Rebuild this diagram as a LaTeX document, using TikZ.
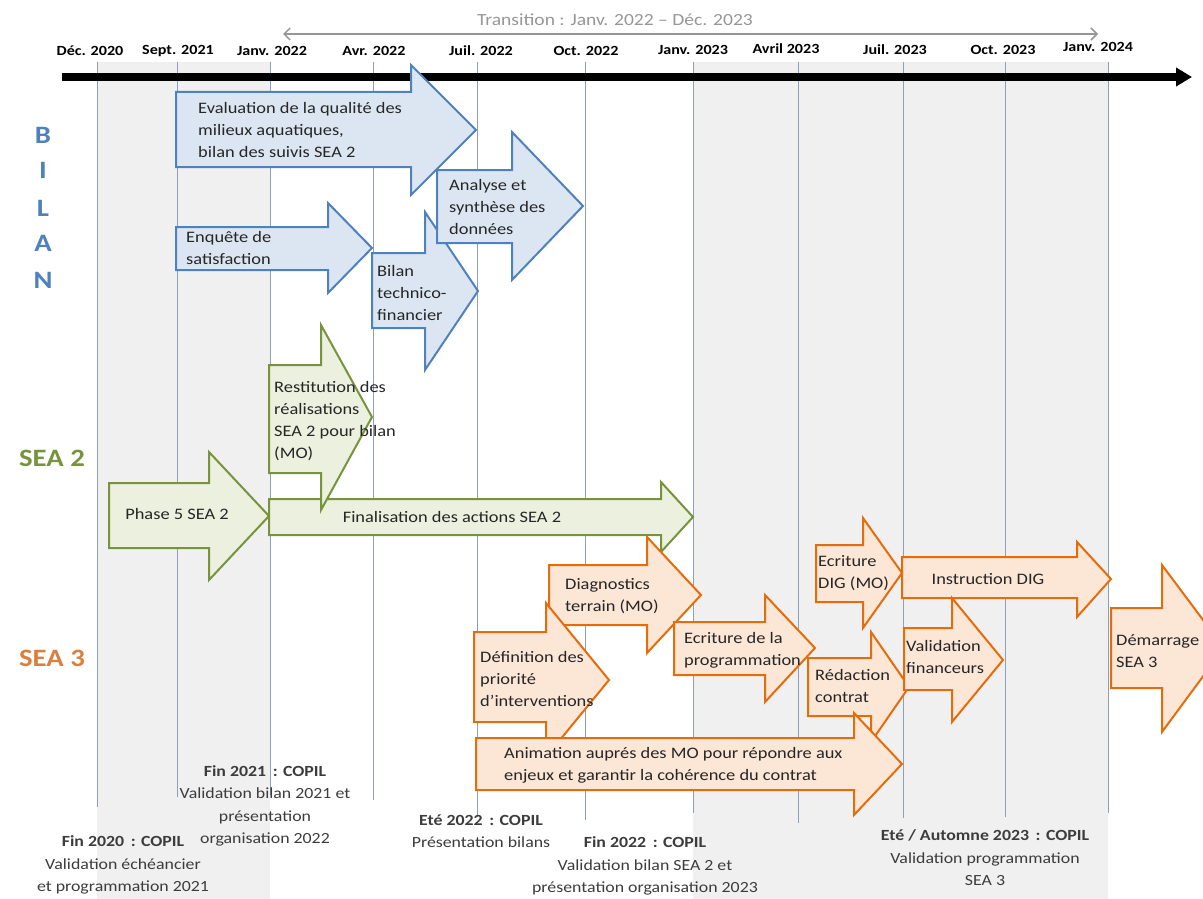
\documentclass[tikz,border=0pt]{standalone}
\usepackage{fontspec}
\setmainfont{Carlito}[FakeStretch=1.15]
\usetikzlibrary{arrows.meta}

\definecolor{bilanline}{RGB}{79,129,189}
\definecolor{bilanfill}{RGB}{220,230,242}
\definecolor{seadeuxline}{RGB}{119,147,60}
\definecolor{seadeuxfill}{RGB}{235,241,222}
\definecolor{seatroisline}{RGB}{228,108,10}
\definecolor{seatroisfill}{RGB}{252,230,214}
\definecolor{seatroistext}{RGB}{217,128,60}
\definecolor{bandgray}{RGB}{240,240,240}
\definecolor{gridgray}{RGB}{140,160,185}
\definecolor{transgray}{RGB}{150,150,150}
\definecolor{copilgray}{RGB}{60,60,60}

\begin{document}
\begin{tikzpicture}[x=1pt, y=-1pt,
    bilanarrow/.style={draw=bilanline, fill=bilanfill, line width=2pt},
    seadeuxarrow/.style={draw=seadeuxline, fill=seadeuxfill, line width=2pt},
    seatroisarrow/.style={draw=seatroisline, fill=seatroisfill, line width=2pt},
    tasktext/.style={anchor=west, align=left, inner sep=0pt, text=black!85, font=\fontsize{16}{22}\selectfont},
    datelabel/.style={inner sep=0pt, font=\fontsize{14}{16}\selectfont\bfseries},
    rowlabel/.style={inner sep=0pt, font=\fontsize{25}{25}\selectfont\bfseries},
    copil/.style={align=center, inner sep=0pt, text=copilgray, font=\fontsize{15.5}{22.5}\selectfont},
    gridline/.style={draw=gridgray, line width=1pt}]
    \useasboundingbox (0,0) rectangle (1203,899);

    % Shaded periods
    \fill[bandgray] (97,62) rectangle (270,899);
    \fill[bandgray] (693,62) rectangle (1108,899);

    % Month lines
    \draw[gridline] (97,62) -- (97,807);
    \draw[gridline] (177,62) -- (177,797);
    \draw[gridline] (270,62) -- (270,795);
    \draw[gridline] (373,62) -- (373,800);
    \draw[gridline] (477,62) -- (477,817);
    \draw[gridline] (585,62) -- (585,820);
    \draw[gridline] (693,62) -- (693,813);
    \draw[gridline] (798,62) -- (798,823);
    \draw[gridline] (903,62) -- (903,818);
    \draw[gridline] (1005,62) -- (1005,817);
    \draw[gridline] (1108,62) -- (1108,813);

    % Dates
    \node[datelabel] (dec20) at (90,51) {Déc. 2020};
    \node[datelabel] (sep21) at (178,51) {Sept. 2021};
    \node[datelabel] (jan22) at (272,51) {Janv. 2022};
    \node[datelabel] (avr22) at (374,51) {Avr. 2022};
    \node[datelabel] (jul22) at (481,51) {Juil. 2022};
    \node[datelabel] (oct22) at (586,51) {Oct. 2022};
    \node[datelabel] (jan23) at (693,50) {Janv. 2023};
    \node[datelabel] (avr23) at (786,49) {Avril 2023};
    \node[datelabel] (jul23) at (895,50) {Juil. 2023};
    \node[datelabel] (oct23) at (1003,50) {Oct. 2023};
    \node[datelabel] (jan24) at (1098,47) {Janv. 2024};

    % Time axis
    \coordinate (axisstart) at (62,77);
    \coordinate (axisend) at (1192,77);
    \draw[line width=8.5pt, -{Triangle[length=16pt,width=18pt]}] (axisstart) -- (axisend);

    % Transition period
    \coordinate (transstart) at (283,34);
    \coordinate (transend) at (1098,34);
    \draw[transgray, line width=1.5pt, {Straight Barb[length=6pt,width=12pt]}-{Straight Barb[length=6pt,width=12pt]}] (transstart) -- (transend);
    \node[text=transgray, inner sep=0pt, font=\fontsize{17}{18}\selectfont] (transition) at (615,20) {Transition : Janv. 2022 – Déc. 2023};

    % Row titles
    \node[rowlabel, text=bilanline] (bilanb) at (43,135) {B};
    \node[rowlabel, text=bilanline] (bilani) at (43,170) {I};
    \node[rowlabel, text=bilanline] (bilanl) at (43,208) {L};
    \node[rowlabel, text=bilanline] (bilana) at (43,243) {A};
    \node[rowlabel, text=bilanline] (bilann) at (43,280) {N};
    \node[rowlabel, text=seadeuxline] (seadeux) at (52,458) {SEA 2};
    \node[rowlabel, text=seatroistext] (seatrois) at (52,658) {SEA 3};

    % BILAN
    \draw[bilanarrow] (176,92) -- (411,92) -- (411,65) -- (476,130) -- (411,195) -- (411,167) -- (176,167) -- cycle;
    \node[tasktext] (evaluation) at (198,130) {Evaluation de la qualité des\\milieux aquatiques,\\bilan des suivis SEA 2};
    \draw[bilanarrow] (176,227) -- (328,227) -- (328,203) -- (372,248) -- (328,293) -- (328,270) -- (176,270) -- cycle;
    \node[tasktext] (enquete) at (186,248) {Enquête de\\satisfaction};
    \draw[bilanarrow] (372,253) -- (425,253) -- (425,212) -- (478,291) -- (425,370) -- (425,328) -- (372,328) -- cycle;
    \node[tasktext] (bilantf) at (377,293) {Bilan\\technico-\\financier};
    \draw[bilanarrow] (437,170) -- (512,170) -- (512,132) -- (583,206) -- (512,280) -- (512,243) -- (437,243) -- cycle;
    \node[tasktext] (analyse) at (449,207) {Analyse et\\synthèse des\\données};

    % SEA 2
    \draw[seadeuxarrow] (109,483) -- (209,483) -- (209,452) -- (269,516) -- (209,580) -- (209,548) -- (109,548) -- cycle;
    \node[inner sep=0pt, text=black!85, font=\fontsize{16}{22}\selectfont] (phasecinq) at (177,514) {Phase 5 SEA 2};
    \draw[seadeuxarrow] (269,499) -- (661,499) -- (661,482) -- (693,517) -- (661,552) -- (661,535) -- (269,535) -- cycle;
    \node[inner sep=0pt, text=black!85, font=\fontsize{16}{22}\selectfont] (finalisation) at (452,517) {Finalisation des actions SEA 2};
    \draw[seadeuxarrow] (269,365) -- (321,365) -- (321,325) -- (372,417) -- (321,510) -- (321,473) -- (269,473) -- cycle;
    \node[tasktext] (restitution) at (274,421) {Restitution des\\réalisations\\SEA 2 pour bilan\\(MO)};

    % SEA 3
    \draw[seatroisarrow] (549,565) -- (647,565) -- (647,537) -- (701,595) -- (647,653) -- (647,625) -- (549,625) -- cycle;
    \node[tasktext] (diagnostics) at (565,596) {Diagnostics\\terrain (MO)};
    \draw[seatroisarrow] (474,632) -- (546,632) -- (546,603) -- (609,680) -- (546,757) -- (546,722) -- (474,722) -- cycle;
    \node[tasktext] (definition) at (480,679) {Définition des\\priorité\\d’interventions};
    \draw[seatroisarrow] (674,622) -- (765,622) -- (765,595) -- (815,648) -- (765,702) -- (765,675) -- (674,675) -- cycle;
    \node[tasktext] (programmation) at (684,650) {Ecriture de la\\programmation};
    \draw[seatroisarrow] (808,658) -- (871,658) -- (871,632) -- (909,687) -- (871,742) -- (871,716) -- (808,716) -- cycle;
    \node[tasktext] (redaction) at (815,686) {Rédaction\\contrat};
    \draw[seatroisarrow] (816,545) -- (863,545) -- (863,518) -- (902,573) -- (863,628) -- (863,602) -- (816,602) -- cycle;
    \node[tasktext] (ecrituredig) at (818,573) {Ecriture\\DIG (MO)};
    \draw[seatroisarrow] (902,557) -- (1077,557) -- (1077,542) -- (1111,579) -- (1077,617) -- (1077,598) -- (902,598) -- cycle;
    \node[inner sep=0pt, text=black!85, font=\fontsize{16}{22}\selectfont] (instruction) at (988,579) {Instruction DIG};
    \draw[seatroisarrow] (904,628) -- (952,628) -- (952,598) -- (1003,660) -- (952,722) -- (952,690) -- (904,690) -- cycle;
    \node[tasktext] (financeurs) at (906,657) {Validation\\financeurs};
    \draw[seatroisarrow] (1111,608) -- (1162,608) -- (1162,565) -- (1224,648) -- (1162,732) -- (1162,688) -- (1111,688) -- cycle;
    \node[tasktext] (demarrage) at (1116,651) {Démarrage\\SEA 3};
    \draw[seatroisarrow] (476,738) -- (854,738) -- (854,713) -- (902,764) -- (854,815) -- (854,790) -- (476,790) -- cycle;
    \node[tasktext] (animation) at (504,765) {Animation auprés des MO pour répondre aux\\enjeux et garantir la cohérence du contrat};

    % COPIL
    \node[copil] (copilfin20) at (123,865) {\textbf{Fin 2020 \,: COPIL}\\Validation échéancier\\et programmation 2021};
    \node[copil] (copilfin21) at (265,806) {\textbf{Fin 2021 \,: COPIL}\\Validation bilan 2021 et\\présentation\\organisation 2022};
    \node[copil] (copilete22) at (481,831) {\textbf{Eté 2022 \,: COPIL}\\Présentation bilans};
    \node[copil] (copilfin22) at (645,866) {\textbf{Fin 2022 \,: COPIL}\\Validation bilan SEA 2 et\\présentation organisation 2023};
    \node[copil] (copil23) at (985,858) {\textbf{Eté / Automne 2023 \,: COPIL}\\Validation programmation\\SEA 3};
\end{tikzpicture}
\end{document}
